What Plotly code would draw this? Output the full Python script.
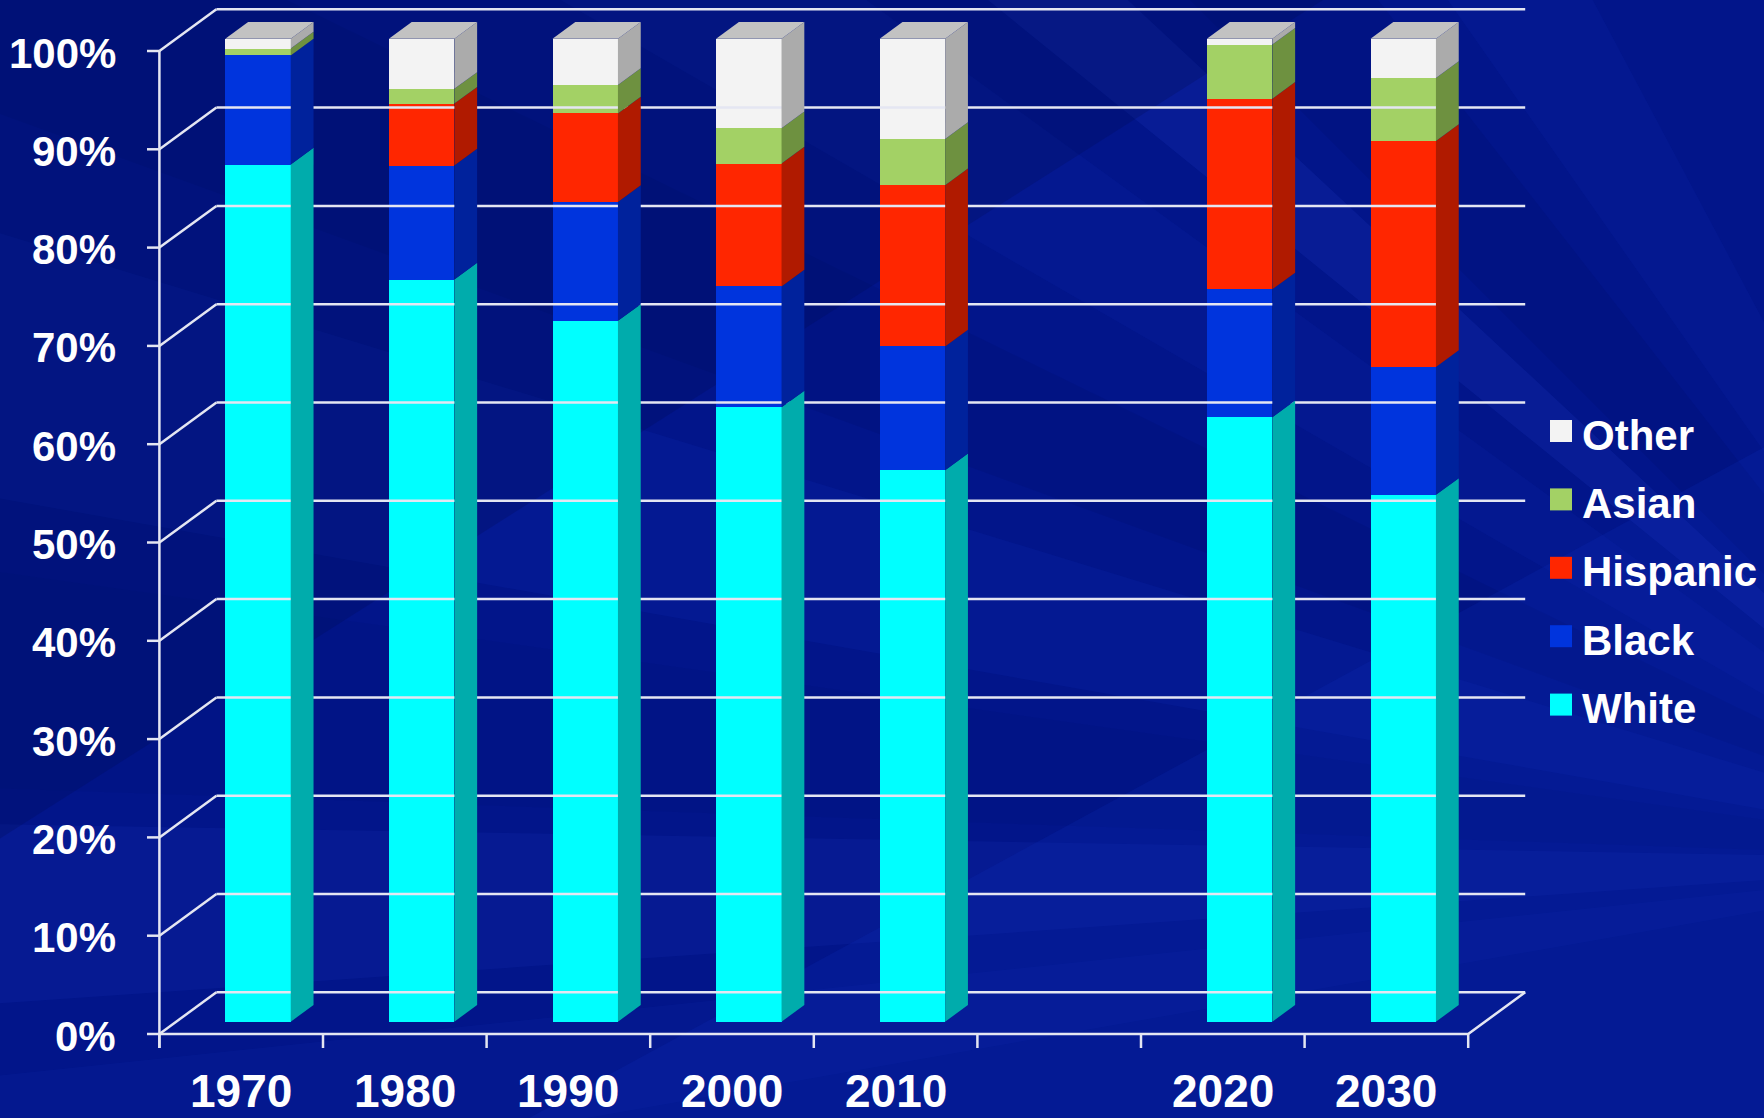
import math
import plotly.graph_objects as go

# ---------------- data ----------------
categories = ["1970", "1980", "1990", "2000", "2010", "", "2020", "2030"]
white    = [87.2, 75.5, 71.3, 62.5, 56.1, None, 61.5, 53.6]
black    = [11.1, 11.6, 12.1, 12.3, 12.6, None, 13.0, 13.0]
hispanic = [0.0,  6.3,  9.0, 12.5, 16.4, None, 19.4, 23.0]
asian    = [0.7,  1.5,  2.9,  3.6,  4.7, None,  5.5,  6.4]
other    = [1.0,  5.1,  4.7,  9.1, 10.2, None,  0.6,  4.0]

series_names = ["White", "Black", "Hispanic", "Asian", "Other"]
series_vals = [white, black, hispanic, asian, other]
y_tick_vals = [0, 10, 20, 30, 40, 50, 60, 70, 80, 90, 100]
y_tick_text = [f"{v}%" for v in y_tick_vals]

# ---------------- style ----------------
front_colors = ["#00FFFF", "#0034DD", "#FF2600", "#A3D165", "#F3F3F3"]
side_colors = ["#00ACAC", "#00229C", "#B01A00", "#6E9140", "#ABABAB"]
top_color = "#C2C2C2"
grid_color = "#E4E6F2"
FONT = "Liberation Sans, Arial, sans-serif"

W, H = 1764, 1118
PX_X = 163.6      # px per category slot
PX_Y = 9.83       # px per percent
X0_PX = 159.4     # pixel of x=-0.5 (front left axis)
Y0_PX = 1034.0    # pixel of y=0 on front plane

x_range = [-0.5 - X0_PX / PX_X, -0.5 + (W - X0_PX) / PX_X]
y_range = [-(H - Y0_PX) / PX_Y, Y0_PX / PX_Y]

DX, DY = 57.0 / PX_X, 41.7 / PX_Y          # floor depth
F0, FD = 0.295, 0.40                       # bar front offset / bar depth (fractions of floor depth)
BAR_W = 0.4
bx, by = F0 * DX, F0 * DY
ddx, ddy = FD * DX, FD * DY
n = len(categories)
x_left, x_right = -0.5, n - 0.5

fig = go.Figure()

# ---------------- back wall grid + floor + axis ----------------
gx, gy = [], []
for v in y_tick_vals:
    gx += [x_left + DX, x_right + DX, None, x_left, x_left + DX, None]
    gy += [v + DY, v + DY, None, v, v + DY, None]
gx += [x_left, x_right, x_right + DX, None]
gy += [0, 0, DY, None]
tick_len_y = 14.0 / PX_Y
gx += [x_left, x_left, None]
gy += [100, -tick_len_y, None]
tick_len_x = 12.4 / PX_X
for v in y_tick_vals:
    gx += [x_left - tick_len_x, x_left, None]
    gy += [v, v, None]
for i in range(n + 1):
    gx += [x_left + i, x_left + i, None]
    gy += [0, -tick_len_y, None]
fig.add_trace(go.Scatter(x=gx, y=gy, mode="lines", line=dict(color=grid_color, width=2.5),
                         hoverinfo="skip", showlegend=False))

# ---------------- 3D faces ----------------
for ci, cat in enumerate(categories):
    if white[ci] is None:
        continue
    cum = 0.0
    xr = ci + bx + BAR_W / 2
    for si, vals in enumerate(series_vals):
        v = vals[ci]
        b, t = cum + by, cum + v + by
        cum += v
        if v <= 0:
            continue
        fig.add_trace(go.Scatter(
            x=[xr, xr + ddx, xr + ddx, xr, xr],
            y=[b, b + ddy, t + ddy, t, b],
            fill="toself", fillcolor=side_colors[si], mode="lines",
            line=dict(width=0, color=side_colors[si]), hoverinfo="skip", showlegend=False))
    xl = ci + bx - BAR_W / 2
    T = cum + by
    fig.add_trace(go.Scatter(
        x=[xl, xr, xr + ddx, xl + ddx, xl],
        y=[T, T, T + ddy, T + ddy, T],
        fill="toself", fillcolor=top_color, mode="lines",
        line=dict(width=0, color=top_color), hoverinfo="skip", showlegend=False))

# front faces as bars
idx = [i for i, c in enumerate(categories) if white[i] is not None]
cum = [0.0] * len(idx)
for si, (name, vals) in enumerate(zip(series_names, series_vals)):
    ys = [vals[i] for i in idx]
    fig.add_trace(go.Bar(
        x=[i + bx for i in idx], y=ys, base=[c + by for c in cum],
        width=BAR_W, name=name, marker=dict(color=front_colors[si], line=dict(width=0)),
        showlegend=False, hoverinfo="skip"))
    cum = [c + y for c, y in zip(cum, ys)]

# ---------------- legend (manual) ----------------
leg_x_marker = -0.5 + (1561 - X0_PX) / PX_X
leg_x_text = -0.5 + (1580 - X0_PX) / PX_X
leg_top = (Y0_PX - 431) / PX_Y
leg_step = 68.4 / PX_Y
annotations = []
for k, si in enumerate(reversed(range(len(series_names)))):
    yy = leg_top - k * leg_step
    fig.add_trace(go.Scatter(x=[leg_x_marker], y=[yy], mode="markers",
                             marker=dict(symbol="square", size=22, color=front_colors[si], line=dict(width=0)),
                             hoverinfo="skip", showlegend=False))
    annotations.append(dict(x=leg_x_text, y=yy, xref="x", yref="y", text=series_names[si],
                            xanchor="left", yanchor="middle", yshift=-4, showarrow=False,
                            font=dict(family=FONT, size=42, color="white", weight="bold")))

# axis labels
for v, t in zip(y_tick_vals, y_tick_text):
    annotations.append(dict(x=-0.5 - (159.4 - 118) / PX_X, y=v, xref="x", yref="y", text=t,
                            xanchor="right", yanchor="middle", yshift=-2, showarrow=False,
                            font=dict(family=FONT, size=42, color="white", weight="bold")))
for i, c in enumerate(categories):
    if c:
        annotations.append(dict(x=i, y=0, xref="x", yref="paper", text=c,
                                xanchor="center", yanchor="bottom", showarrow=False, borderpad=0,
                                font=dict(family=FONT, size=46, color="white", weight="bold")))

# ---------------- background streaks ----------------
shapes = []
fx, fy = 2050, 860  # focal point (px) of the light rays
rays = [(-178, -172, 0.06, "#000a50"), (-170, -163, 0.07, "#3050ff"), (-160, -154, 0.10, "#000850"),
        (-150, -144, 0.06, "#3a5cff"), (-141, -137, 0.10, "#4060ff"), (-135, -128, 0.12, "#000850"),
        (-125, -118, 0.06, "#3a5cff"), (-184, -179, 0.07, "#4060ff"), (-190, -186, 0.05, "#4060ff")]
for a0, a1, op, col in rays:
    R = 3000
    p = [(fx, fy)]
    for a in (a0, a1):
        r = math.radians(a)
        p.append((fx + R * math.cos(r), fy + R * math.sin(r)))
    path = "M " + " L ".join(f"{px / W:.4f},{1 - py / H:.4f}" for px, py in p) + " Z"
    shapes.append(dict(type="path", path=path, xref="paper", yref="paper", fillcolor=col,
                       opacity=op, line=dict(width=0), layer="below"))
shapes.append(dict(type="path", path="M 0,1 L 0.75,1 L 0,0.25 Z", xref="paper", yref="paper",
                   fillcolor="#000a55", opacity=0.25, line=dict(width=0), layer="below"))
shapes.append(dict(type="path", path="M 1,0 L 0.3,0 L 1,0.6 Z", xref="paper", yref="paper",
                   fillcolor="#1030c0", opacity=0.18, line=dict(width=0), layer="below"))

fig.update_layout(
    width=W, height=H, autosize=False,
    margin=dict(l=0, r=0, t=0, b=0, pad=0),
    paper_bgcolor="#02158A", plot_bgcolor="rgba(0,0,0,0)",
    barmode="overlay", bargap=0,
    xaxis=dict(range=x_range, visible=False, fixedrange=True),
    yaxis=dict(range=y_range, visible=False, fixedrange=True),
    showlegend=False, annotations=annotations, shapes=shapes,
)
fig.write_html("out.html")
